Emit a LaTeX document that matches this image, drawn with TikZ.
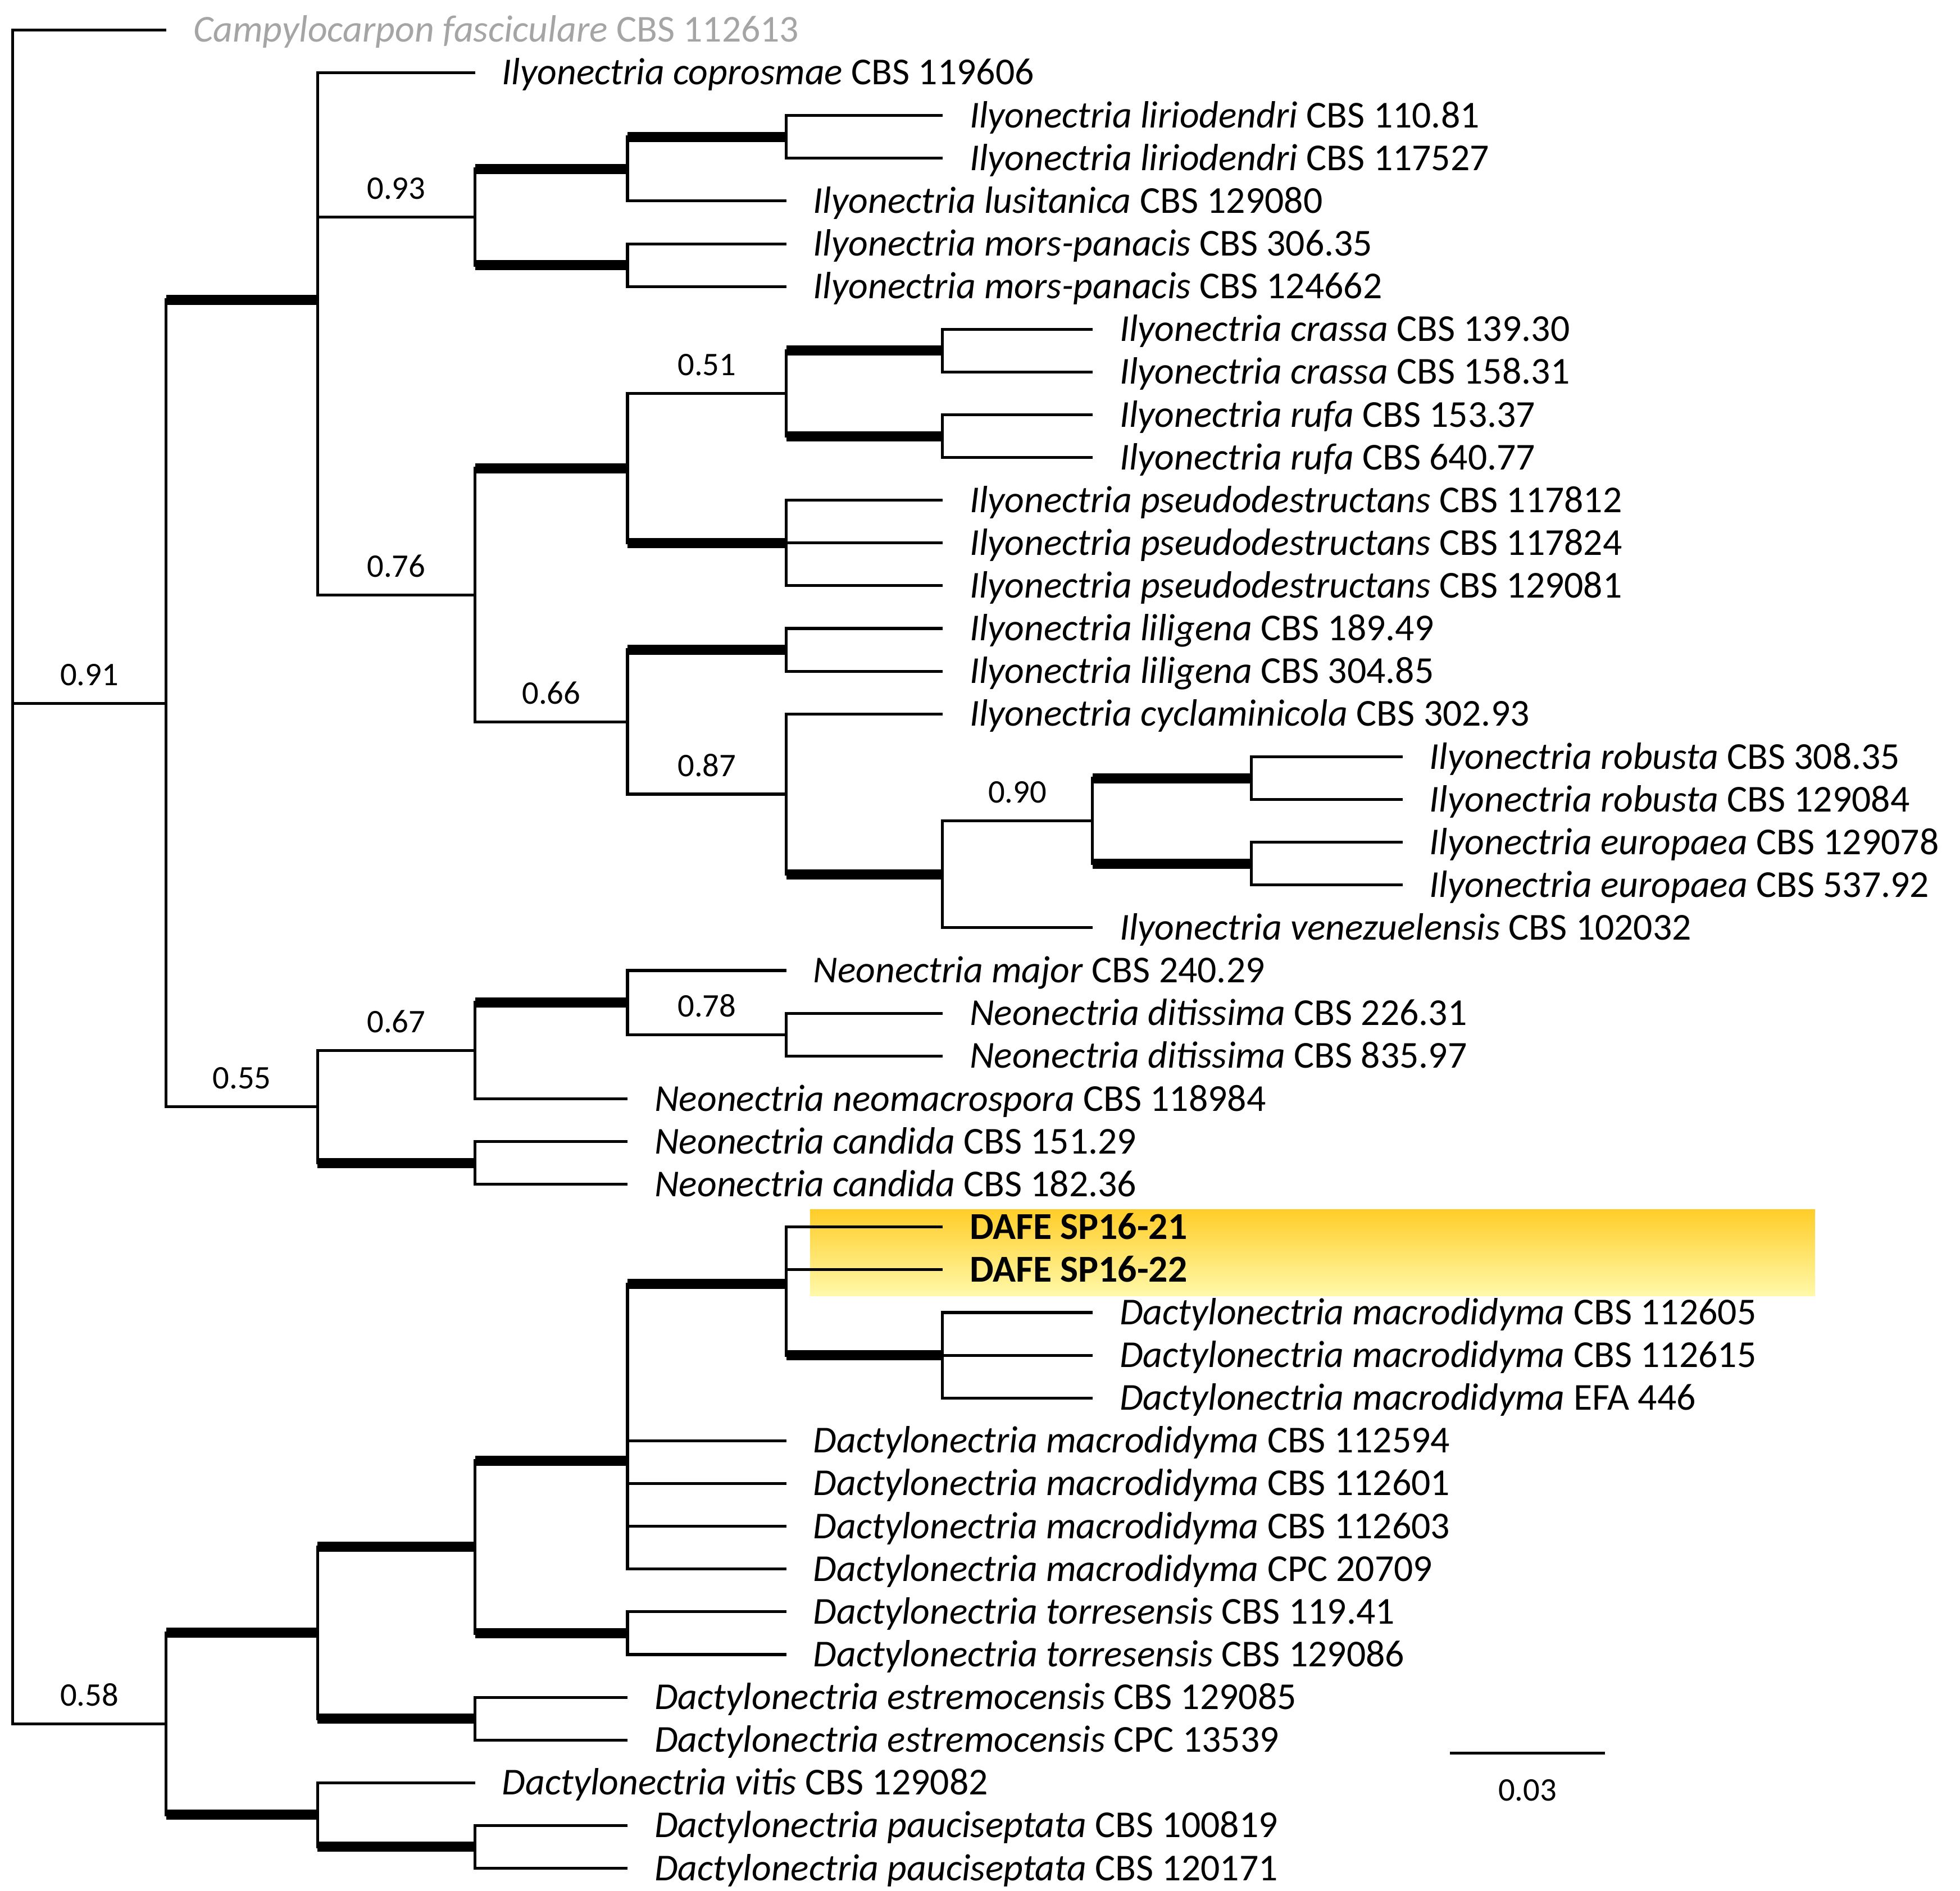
\documentclass[tikz,border=0pt]{standalone}
\usepackage{fontspec}
\setmainfont{Carlito}
\usetikzlibrary{positioning}
\definecolor{outg}{RGB}{165,165,165}
\definecolor{hitop}{RGB}{255,205,40}
\definecolor{hibot}{RGB}{255,249,170}

\begin{document}
\begin{tikzpicture}[x=0.01cm, y=-0.01cm,
  br/.style={line width=0.65pt},
  bs/.style={line width=2.3pt},
  tip/.style={right=0.21cm, inner sep=0pt, text height=5.5pt, text depth=0pt, font=\fontsize{8.65}{10}\selectfont},
  pp/.style={above=0.13cm, inner sep=0pt, font=\fontsize{7.5}{9}\selectfont}]
\useasboundingbox (0,0) rectangle (1568,1513);
% highlight of the new isolates
\shade[top color=hitop, bottom color=hibot] (648,968) rectangle (1452,1037);

% internal nodes
\coordinate (r) at (10,700);
\coordinate (n091) at (133,562.8);
\coordinate (n058) at (133,1379.4);
\coordinate (a) at (254,240);
\coordinate (n055) at (254,885.7);
\coordinate (n093) at (380,173.7);
\coordinate (n076) at (380,476.2);
\coordinate (b) at (502,135.2);
\coordinate (c) at (502,212.2);
\coordinate (d) at (629,109.5);
\coordinate (e) at (502,374.7);
\coordinate (n066) at (502,577.8);
\coordinate (n051) at (629,314.8);
\coordinate (f) at (629,434.5);
\coordinate (g) at (754,280.6);
\coordinate (h) at (754,349.0);
\coordinate (i) at (629,520.0);
\coordinate (n087) at (629,635.5);
\coordinate (j) at (754,699.7);
\coordinate (n090) at (874,656.9);
\coordinate (k) at (1001,622.7);
\coordinate (l) at (1001,691.1);
\coordinate (n067) at (380,840.8);
\coordinate (m) at (380,930.6);
\coordinate (p) at (502,802.2);
\coordinate (n078) at (629,827.9);
\coordinate (q) at (254,1306.6);
\coordinate (s) at (254,1452.2);
\coordinate (tt) at (380,1237.9);
\coordinate (u) at (380,1375.3);
\coordinate (v) at (502,1168.9);
\coordinate (w) at (502,1306.9);
\coordinate (x) at (629,1027.5);
\coordinate (yy) at (754,1084.5);
\coordinate (z) at (380,1477.9);

% tips
\path (133,24) coordinate (t1) node[tip, text=outg] (l1) {\textit{Campylocarpon fasciculare} CBS 112613};
\path (380,58.2) coordinate (t2) node[tip] (l2) {\textit{Ilyonectria coprosmae} CBS 119606};
\path (754,92.4) coordinate (t3) node[tip] (l3) {\textit{Ilyonectria liriodendri} CBS 110.81};
\path (754,126.6) coordinate (t4) node[tip] (l4) {\textit{Ilyonectria liriodendri} CBS 117527};
\path (629,160.8) coordinate (t5) node[tip] (l5) {\textit{Ilyonectria lusitanica} CBS 129080};
\path (629,195.1) coordinate (t6) node[tip] (l6) {\textit{Ilyonectria mors-panacis} CBS 306.35};
\path (629,229.3) coordinate (t7) node[tip] (l7) {\textit{Ilyonectria mors-panacis} CBS 124662};
\path (874,263.5) coordinate (t8) node[tip] (l8) {\textit{Ilyonectria crassa} CBS 139.30};
\path (874,297.7) coordinate (t9) node[tip] (l9) {\textit{Ilyonectria crassa} CBS 158.31};
\path (874,331.9) coordinate (t10) node[tip] (l10) {\textit{Ilyonectria rufa} CBS 153.37};
\path (874,366.1) coordinate (t11) node[tip] (l11) {\textit{Ilyonectria rufa} CBS 640.77};
\path (754,400.3) coordinate (t12) node[tip] (l12) {\textit{Ilyonectria pseudodestructans} CBS 117812};
\path (754,434.5) coordinate (t13) node[tip] (l13) {\textit{Ilyonectria pseudodestructans} CBS 117824};
\path (754,468.7) coordinate (t14) node[tip] (l14) {\textit{Ilyonectria pseudodestructans} CBS 129081};
\path (754,502.9) coordinate (t15) node[tip] (l15) {\textit{Ilyonectria liligena} CBS 189.49};
\path (754,537.2) coordinate (t16) node[tip] (l16) {\textit{Ilyonectria liligena} CBS 304.85};
\path (754,571.4) coordinate (t17) node[tip] (l17) {\textit{Ilyonectria cyclaminicola} CBS 302.93};
\path (1122,605.6) coordinate (t18) node[tip] (l18) {\textit{Ilyonectria robusta} CBS 308.35};
\path (1122,639.8) coordinate (t19) node[tip] (l19) {\textit{Ilyonectria robusta} CBS 129084};
\path (1122,674.0) coordinate (t20) node[tip] (l20) {\textit{Ilyonectria europaea} CBS 129078};
\path (1122,708.2) coordinate (t21) node[tip] (l21) {\textit{Ilyonectria europaea} CBS 537.92};
\path (874,742.4) coordinate (t22) node[tip] (l22) {\textit{Ilyonectria venezuelensis} CBS 102032};
\path (629,776.6) coordinate (t23) node[tip] (l23) {\textit{Neonectria major} CBS 240.29};
\path (754,810.8) coordinate (t24) node[tip] (l24) {\textit{Neonectria ditissima} CBS 226.31};
\path (754,845.0) coordinate (t25) node[tip] (l25) {\textit{Neonectria ditissima} CBS 835.97};
\path (502,879.3) coordinate (t26) node[tip] (l26) {\textit{Neonectria neomacrospora} CBS 118984};
\path (502,913.5) coordinate (t27) node[tip] (l27) {\textit{Neonectria candida} CBS 151.29};
\path (502,947.7) coordinate (t28) node[tip] (l28) {\textit{Neonectria candida} CBS 182.36};
\path (754,981.9) coordinate (t29) node[tip] (l29) {\textbf{DAFE SP16-21}};
\path (754,1016.1) coordinate (t30) node[tip] (l30) {\textbf{DAFE SP16-22}};
\path (874,1050.3) coordinate (t31) node[tip] (l31) {\textit{Dactylonectria macrodidyma} CBS 112605};
\path (874,1084.5) coordinate (t32) node[tip] (l32) {\textit{Dactylonectria macrodidyma} CBS 112615};
\path (874,1118.7) coordinate (t33) node[tip] (l33) {\textit{Dactylonectria macrodidyma} EFA 446};
\path (629,1152.9) coordinate (t34) node[tip] (l34) {\textit{Dactylonectria macrodidyma} CBS 112594};
\path (629,1187.1) coordinate (t35) node[tip] (l35) {\textit{Dactylonectria macrodidyma} CBS 112601};
\path (629,1221.4) coordinate (t36) node[tip] (l36) {\textit{Dactylonectria macrodidyma} CBS 112603};
\path (629,1255.6) coordinate (t37) node[tip] (l37) {\textit{Dactylonectria macrodidyma} CPC 20709};
\path (629,1289.8) coordinate (t38) node[tip] (l38) {\textit{Dactylonectria torresensis} CBS 119.41};
\path (629,1324.0) coordinate (t39) node[tip] (l39) {\textit{Dactylonectria torresensis} CBS 129086};
\path (502,1358.2) coordinate (t40) node[tip] (l40) {\textit{Dactylonectria estremocensis} CBS 129085};
\path (502,1392.4) coordinate (t41) node[tip] (l41) {\textit{Dactylonectria estremocensis} CPC 13539};
\path (380,1426.6) coordinate (t42) node[tip] (l42) {\textit{Dactylonectria vitis} CBS 129082};
\path (502,1460.8) coordinate (t43) node[tip] (l43) {\textit{Dactylonectria pauciseptata} CBS 100819};
\path (502,1495.0) coordinate (t44) node[tip] (l44) {\textit{Dactylonectria pauciseptata} CBS 120171};

% branches
\draw[br] (r) |- (t1);
\draw[br] (r) |- node[pp, pos=.75] {0.91} (n091);
\draw[br] (r) |- node[pp, pos=.75] {0.58} (n058);
\draw[br] (n091) |- (a);
\draw[bs] (n091 |- a) -- (a);
\draw[br] (n091) |- node[pp, pos=.75] {0.55} (n055);
\draw[br] (a) |- (t2);
\draw[br] (a) |- node[pp, pos=.75] {0.93} (n093);
\draw[br] (a) |- node[pp, pos=.75] {0.76} (n076);
\draw[br] (n093) |- (b) (n093) |- (c);
\draw[bs] (n093 |- b) -- (b) (n093 |- c) -- (c);
\draw[br] (b) |- (d) (b) |- (t5);
\draw[bs] (b |- d) -- (d);
\draw[br] (d) |- (t3) (d) |- (t4);
\draw[br] (c) |- (t6) (c) |- (t7);
\draw[br] (n076) |- (e);
\draw[bs] (n076 |- e) -- (e);
\draw[br] (n076) |- node[pp, pos=.75] {0.66} (n066);
\draw[br] (e) |- node[pp, pos=.75] {0.51} (n051);
\draw[br] (e) |- (f);
\draw[bs] (e |- f) -- (f);
\draw[br] (n051) |- (g) (n051) |- (h);
\draw[bs] (n051 |- g) -- (g) (n051 |- h) -- (h);
\draw[br] (g) |- (t8) (g) |- (t9);
\draw[br] (h) |- (t10) (h) |- (t11);
\draw[br] (f) |- (t12) (f) |- (t13) (f) |- (t14);
\draw[br] (n066) |- (i);
\draw[bs] (n066 |- i) -- (i);
\draw[br] (n066) |- node[pp, pos=.75] {0.87} (n087);
\draw[br] (i) |- (t15) (i) |- (t16);
\draw[br] (n087) |- (t17) (n087) |- (j);
\draw[bs] (n087 |- j) -- (j);
\draw[br] (j) |- node[pp, pos=.75] {0.90} (n090);
\draw[br] (j) |- (t22);
\draw[br] (n090) |- (k) (n090) |- (l);
\draw[bs] (n090 |- k) -- (k) (n090 |- l) -- (l);
\draw[br] (k) |- (t18) (k) |- (t19);
\draw[br] (l) |- (t20) (l) |- (t21);
\draw[br] (n055) |- node[pp, pos=.75] {0.67} (n067);
\draw[br] (n055) |- (m);
\draw[bs] (n055 |- m) -- (m);
\draw[br] (n067) |- (p) (n067) |- (t26);
\draw[bs] (n067 |- p) -- (p);
\draw[br] (p) |- (t23);
\draw[br] (p) |- node[pp, pos=.75] {0.78} (n078);
\draw[br] (n078) |- (t24) (n078) |- (t25);
\draw[br] (m) |- (t27) (m) |- (t28);
\draw[br] (n058) |- (q) (n058) |- (s);
\draw[bs] (n058 |- q) -- (q) (n058 |- s) -- (s);
\draw[br] (q) |- (tt) (q) |- (u);
\draw[bs] (q |- tt) -- (tt) (q |- u) -- (u);
\draw[br] (tt) |- (v) (tt) |- (w);
\draw[bs] (tt |- v) -- (v) (tt |- w) -- (w);
\draw[br] (v) |- (x) (v) |- (t34) (v) |- (t35) (v) |- (t36) (v) |- (t37);
\draw[bs] (v |- x) -- (x);
\draw[br] (x) |- (t29) (x) |- (t30) (x) |- (yy);
\draw[bs] (x |- yy) -- (yy);
\draw[br] (yy) |- (t31) (yy) |- (t32) (yy) |- (t33);
\draw[br] (w) |- (t38) (w) |- (t39);
\draw[br] (u) |- (t40) (u) |- (t41);
\draw[br] (s) |- (t42) (s) |- (z);
\draw[bs] (s |- z) -- (z);
\draw[br] (z) |- (t43) (z) |- (t44);

% scale bar
\coordinate (sb1) at (1160,1403);
\coordinate (sb2) at (1284,1403);
\draw[br] (sb1) -- node[below=0.2cm, inner sep=0pt, font=\fontsize{7.5}{9}\selectfont] (sbl) {0.03} (sb2);
\end{tikzpicture}
\end{document}
